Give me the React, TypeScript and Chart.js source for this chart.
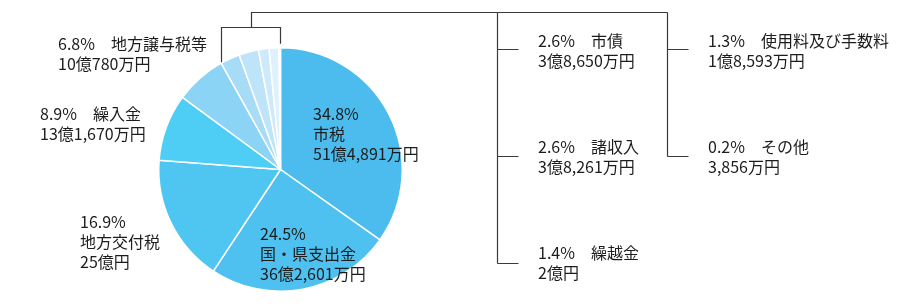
import React, { useEffect, useRef } from "react";
import { Chart, registerables } from "chart.js";

Chart.register(...registerables);

// ---- data ----
const categories = [
  "市税",
  "国・県支出金",
  "地方交付税",
  "繰入金",
  "地方譲与税等",
  "市債",
  "諸収入",
  "繰越金",
  "使用料及び手数料",
  "その他",
];
const percents = [34.8, 24.5, 16.9, 8.9, 6.8, 2.6, 2.6, 1.4, 1.3, 0.2];
const amounts = [
  "51億4,891万円",
  "36億2,601万円",
  "25億円",
  "13億1,670万円",
  "10億780万円",
  "3億8,650万円",
  "3億8,261万円",
  "2億円",
  "1億8,593万円",
  "3,856万円",
];
const colors = [
  "#4cbcee",
  "#4fc1f0",
  "#4fc6f2",
  "#4ecdf5",
  "#8cd4f5",
  "#a8dcf6",
  "#bde4f8",
  "#cde9fa",
  "#dff1fc",
  "#eef8fe",
];

// ---- label layout (x, first baseline, style) ----
// style: "stack" = percent / name / amount on three lines; "inline" = "pct　name" / amount
const labelLayout = [
  { x: 313, y: 120, style: "stack" },
  { x: 260, y: 240, style: "stack" },
  { x: 80, y: 228, style: "stack" },
  { x: 40, y: 120, style: "inline" },
  { x: 58, y: 50, style: "inline" },
  { x: 538, y: 47, style: "inline" },
  { x: 538, y: 153, style: "inline" },
  { x: 538, y: 259, style: "inline" },
  { x: 708, y: 47, style: "inline" },
  { x: 708, y: 153, style: "inline" },
];

const FONT = '16px "Noto Sans CJK JP", "Noto Sans", sans-serif';
const LINE_H = 20;

const labelPlugin = {
  id: "customLabels",
  afterDraw(chart: any) {
    const ctx = chart.ctx as CanvasRenderingContext2D;
    const meta = chart.getDatasetMeta(0);
    const arcs = meta.data as any[];
    ctx.save();

    // ---- connector lines ----
    const first = arcs[5];
    const last = arcs[arcs.length - 1];
    const cx = first.x;
    const cy = first.y;
    const r = first.outerRadius;
    const a0 = first.startAngle;
    const a1 = last.endAngle;
    const p0 = { x: cx + r * Math.cos(a0), y: cy + r * Math.sin(a0) };
    const p1 = { x: cx + r * Math.cos(a1), y: cy + r * Math.sin(a1) };
    const bracketY = 27.5;
    const topY = 12.5;
    const lx = Math.round(p0.x) + 0.5;
    const rx = Math.round(p1.x) - 0.5;
    const mx = Math.round((lx + rx) / 2) + 0.5;
    const col1 = 497.5;
    const col2 = 667.5;
    const stub = 21;
    const rowYs = [49.5, 156.5, 263.5];

    ctx.strokeStyle = "#3a3a3a";
    ctx.lineWidth = 1.2;
    ctx.beginPath();
    // small bracket over the small slices
    ctx.moveTo(lx, p0.y - 1);
    ctx.lineTo(lx, bracketY);
    ctx.lineTo(rx, bracketY);
    ctx.lineTo(rx, p1.y - 4);
    // stem to top line
    ctx.moveTo(mx, bracketY);
    ctx.lineTo(mx, topY);
    ctx.lineTo(col2, topY);
    // column 1
    ctx.moveTo(col1, topY);
    ctx.lineTo(col1, rowYs[2]);
    for (const y of rowYs) {
      ctx.moveTo(col1, y);
      ctx.lineTo(col1 + stub, y);
    }
    // column 2
    ctx.moveTo(col2, topY);
    ctx.lineTo(col2, rowYs[1]);
    for (const y of rowYs.slice(0, 2)) {
      ctx.moveTo(col2, y);
      ctx.lineTo(col2 + stub, y);
    }
    ctx.stroke();

    // ---- text labels ----
    ctx.fillStyle = "#1c1c1c";
    ctx.font = FONT;
    ctx.textAlign = "left";
    ctx.textBaseline = "alphabetic";
    categories.forEach((name, i) => {
      const lay = labelLayout[i];
      const pct = percents[i].toFixed(1) + "%";
      const lines =
        lay.style === "stack"
          ? [pct, name, amounts[i]]
          : [pct + "\u3000" + name, amounts[i]];
      lines.forEach((t, k) => ctx.fillText(t, lay.x, lay.y + k * LINE_H));
    });
    ctx.restore();
  },
};

export default function App() {
  const ref = useRef<HTMLCanvasElement | null>(null);

  useEffect(() => {
    if (!ref.current) return;
    const chart = new Chart(ref.current, {
      type: "pie",
      data: {
        labels: categories,
        datasets: [
          {
            data: percents,
            backgroundColor: colors,
            borderColor: "#ffffff",
            borderWidth: 1.5,
          },
        ],
      },
      options: {
        responsive: false,
        animation: false,
        layout: { padding: { top: 47, bottom: 16, left: 158, right: 497 } },
        plugins: {
          legend: { display: false },
          tooltip: { enabled: false },
        },
      },
      plugins: [labelPlugin],
    });
    return () => chart.destroy();
  }, []);

  return (
    <div
      style={{
        position: "fixed",
        left: 0,
        top: 0,
        width: 900,
        height: 308,
        background: "#ffffff",
      }}
    >
      <canvas ref={ref} width={900} height={308} style={{ display: "block" }} />
    </div>
  );
}
